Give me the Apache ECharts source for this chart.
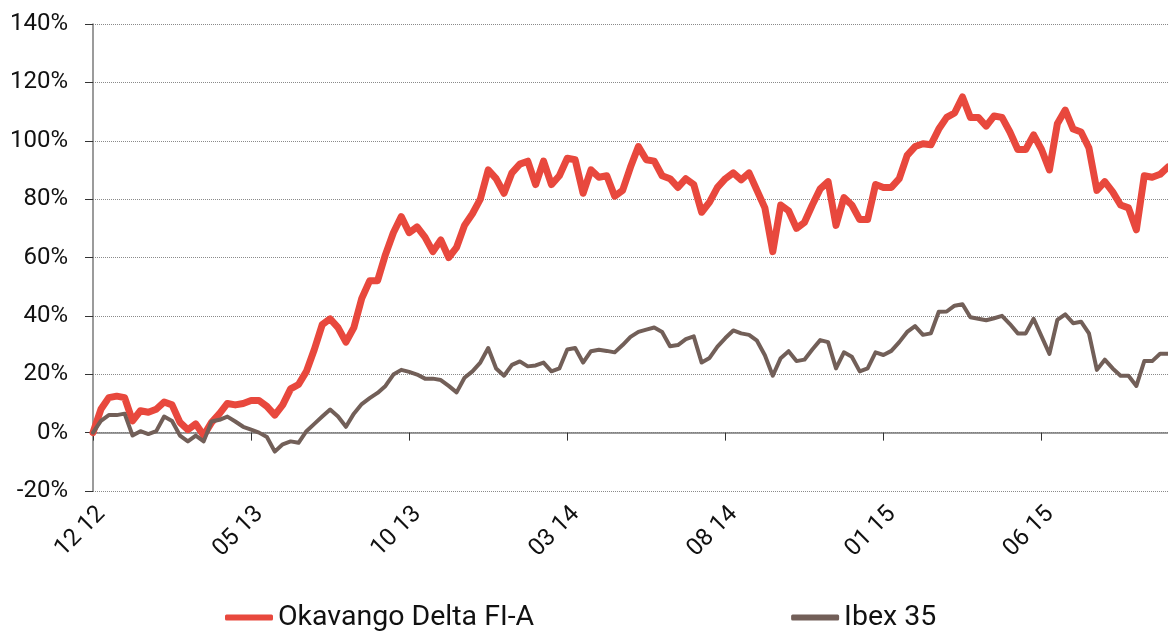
<!DOCTYPE html>
<html>
<head>
<meta charset="utf-8">
<script src="https://cdn.jsdelivr.net/npm/echarts@6/dist/echarts.min.js"></script>
<style>
  html, body { margin: 0; padding: 0; background: #fff; }
  #chart { width: 1168px; height: 635px; }
</style>
</head>
<body>
<div id="chart"></div>
<script>
// weekly samples (x = months since Dec 2012, step 0.25)
const stepMonths = 0.25
const tickLabels = ['12 12', '05 13', '10 13', '03 14', '08 14', '01 15', '06 15']
const okavango = [
  0, 8, 12, 12.5, 12, 4, 7.5, 7, 8, 10.5,
  9.5, 3.5, 1, 3, -1, 3.5, 6.5, 10, 9.5, 10,
  11, 11, 9, 6, 9.5, 15, 16.5, 21, 28.5, 37,
  39, 36, 31, 36, 46, 52, 52, 61, 68.5, 74,
  68.5, 70.5, 67, 62, 66, 60, 63.5, 71, 75, 80,
  90, 87, 82, 89, 92, 93, 85, 93, 85, 88,
  94, 93.5, 82, 90, 87.5, 88, 81, 83, 91, 98,
  93.5, 93, 88, 87, 84, 87, 85, 75.5, 79, 84,
  87, 89, 86.6, 89, 83, 77, 62, 78, 76, 70,
  72, 78, 83.5, 86, 71, 80.5, 78, 73, 73, 85,
  84, 84, 87, 95, 98, 99, 98.6, 104, 108, 109.5,
  115, 108, 108, 105, 108.5, 108, 103, 97, 97, 102,
  97, 90, 105.8, 110.5, 104, 103, 97.5, 83, 86, 82.5,
  78, 77, 69.5, 88, 87.5, 88.5, 91
]
const ibex = [
  0, 4, 6, 6, 6.5, -1, 0.5, -0.5, 0.5, 5.5,
  4, -1, -3, -1, -3, 3.8, 4.4, 5.5, 3.8, 2,
  1, 0, -1.5, -6.5, -4, -3, -3.5, 0.5, 3, 5.5,
  7.9, 5.5, 2, 6.5, 9.8, 11.8, 13.6, 16, 19.9, 21.5,
  20.8, 19.9, 18.5, 18.5, 18, 16, 13.8, 18.8, 21, 24,
  29, 22, 19.5, 23.2, 24.4, 22.7, 23, 24, 21, 22,
  28.5, 29, 24, 27.9, 28.4, 28, 27.5, 30, 32.8, 34.5,
  35.3, 36, 34.5, 29.6, 30, 32, 33, 24, 25.6, 29.5,
  32.4, 35, 34, 33.5, 31.5, 26.5, 19.5, 25.5, 27.9, 24.5,
  25, 28.5, 31.7, 31, 22, 27.5, 26, 21, 22, 27.5,
  26.6, 28, 31, 34.5, 36.5, 33.5, 34, 41.4, 41.5, 43.5,
  44, 39.5, 39, 38.5, 39.2, 40, 37.2, 34, 34, 39,
  33, 27, 38.6, 40.5, 37.5, 38, 34, 21.5, 25, 22,
  19.5, 19.5, 16, 24.5, 24.5, 27, 27
]

const toPairs = arr => arr.map((v, i) => [i * stepMonths, v])

const chart = echarts.init(document.getElementById('chart'))

const option = {
  animation: false,
  textStyle: { fontFamily: 'Roboto' },
  grid: { left: 93, right: 0, top: 24, bottom: 144 },
  legend: {
    top: 603,
    left: 225,
    padding: 0,
    itemGap: 257,
    itemWidth: 48,
    itemHeight: 6,
    icon: 'roundRect',
    textStyle: { fontSize: 28.5, color: '#111', fontFamily: 'Roboto' },
    data: ['Okavango Delta FI-A', 'Ibex 35']
  },
  xAxis: [
    {
      type: 'value',
      min: 0,
      max: 34,
      interval: 5,
      axisLine: { onZero: true, lineStyle: { color: '#7a7a7a', width: 1.5 } },
      axisTick: { show: true, length: 8, lineStyle: { color: '#333' } },
      axisLabel: { show: false },
      splitLine: { show: false }
    },
    {
      type: 'value',
      position: 'bottom',
      min: 0,
      max: 34,
      interval: 5,
      axisLine: { show: false, onZero: false },
      axisTick: { show: false },
      splitLine: { show: false },
      axisLabel: {
        rotate: 45,
        margin: 11,
        fontSize: 24,
        color: '#111',
        verticalAlign: 'top',
        showMaxLabel: false,
        formatter: v => tickLabels[v / 5] || ''
      }
    }
  ],
  yAxis: {
    type: 'value',
    min: -20,
    max: 140,
    interval: 20,
    axisLine: { show: true, lineStyle: { color: '#7a7a7a', width: 1.5 } },
    axisTick: { show: true, length: 8, lineStyle: { color: '#333' } },
    axisLabel: { fontSize: 24, color: '#111', margin: 25, formatter: '{value}%' },
    splitLine: { lineStyle: { color: '#8a8a8a', type: 'dotted', width: 1 } }
  },
  series: [
    {
      name: 'Okavango Delta FI-A',
      type: 'line',
      showSymbol: false,
      color: '#e8483d',
      lineStyle: { width: 7, cap: 'round', join: 'round' },
      data: toPairs(okavango)
    },
    {
      name: 'Ibex 35',
      type: 'line',
      showSymbol: false,
      color: '#725f58',
      lineStyle: { width: 4, cap: 'round', join: 'round' },
      data: toPairs(ibex)
    }
  ]
}

chart.setOption(option)
</script>
</body>
</html>
